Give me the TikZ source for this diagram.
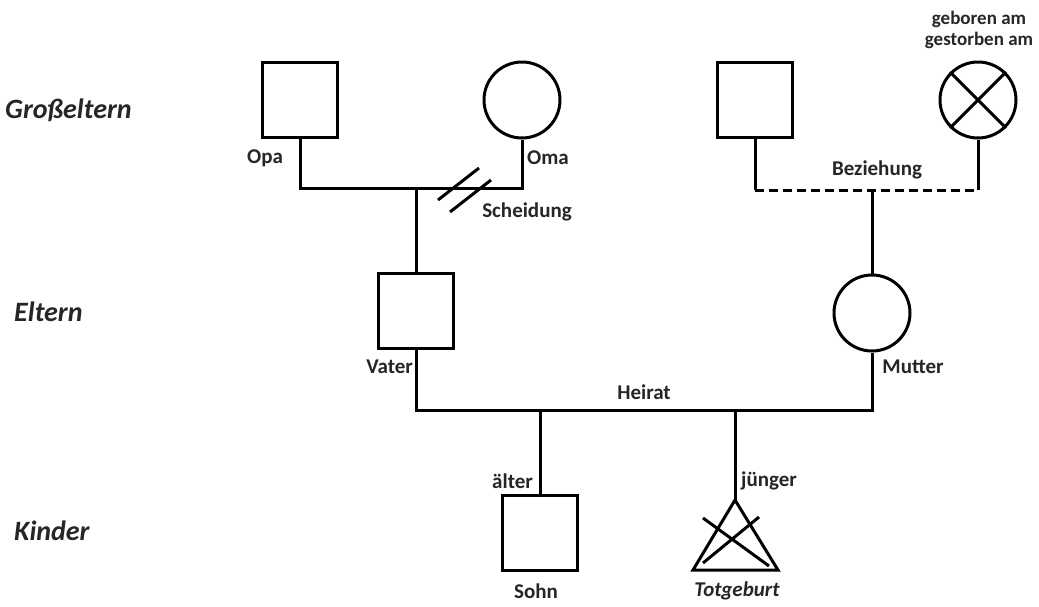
\documentclass[tikz,border=0pt]{standalone}
\usepackage{fontspec}
\setmainfont{Carlito}
\begin{document}
\begin{tikzpicture}[x=1pt,y=-1pt,
  ln/.style={line width=3pt},
  sq/.style={draw, line width=3pt, minimum size=75pt, inner sep=0pt},
  ci/.style={draw, circle, line width=3pt, minimum size=76pt, inner sep=0pt},
  lbl/.style={font=\fontsize{21}{23}\selectfont\bfseries, text=black!85, inner sep=0pt},
  row/.style={font=\fontsize{28}{30}\selectfont\bfseries\itshape, text=black!85, anchor=west, inner sep=0pt}]
\useasboundingbox (0,0) rectangle (1039,606);
\fill[white] (0,0) rectangle (1039,606);

% row labels
\node[row] (rg) at (5,110) {Großeltern};
\node[row] (re) at (14,312) {Eltern};
\node[row] (rk) at (14,531) {Kinder};

% persons
\node[sq] (opa) at (300,100) {};
\node[ci] (oma) at (522,100) {};
\node[sq] (gv) at (755,100) {};
\node[ci] (gm) at (978,100) {};
\node[sq] (vater) at (416,311) {};
\node[ci] (mutter) at (872,313) {};
\node[sq] (sohn) at (540,533) {};

% stillbirth triangle
\coordinate (apex) at (735,500);
\coordinate (tl) at (693,570);
\coordinate (tr) at (778,570);
\draw[ln, line join=miter] (apex) -- (tr) -- (tl) -- cycle;
\coordinate (xa1) at (703,518);
\coordinate (xa2) at (769,566);
\coordinate (xb1) at (759,517);
\coordinate (xb2) at (703,563);
\draw[ln] (xa1) -- (xa2) (xb1) -- (xb2);

% crossed circle
\draw[ln] (gm.45) -- (gm.225) (gm.135) -- (gm.315);

% grandparents left (divorced)
\coordinate (gy) at (0,188);
\coordinate (gc) at (416,188);
\draw[ln] (opa.south) -- (opa.south |- gy) -- (oma.south |- gy) -- (oma.south);
\draw[ln] (gc) -- (vater.north);
\coordinate (d1a) at (438,200);
\coordinate (d1b) at (479,168);
\coordinate (d2a) at (450,212);
\coordinate (d2b) at (491,180);
\draw[ln] (d1a) -- (d1b) (d2a) -- (d2b);

% grandparents right (relationship)
\coordinate (by) at (0,190);
\coordinate (bc) at (872,190);
\draw[ln] (gv.south) -- (gv.south |- by);
\draw[ln] (gm.south) -- (gm.south |- by);
\draw[ln, dash pattern=on 9pt off 5pt] (gv.south |- by) -- (gm.south |- by);
\draw[ln] (bc) -- (mutter.north);

% marriage
\coordinate (hy) at (0,410);
\draw[ln] (vater.south) -- (vater.south |- hy) -- (mutter.south |- hy) -- (mutter.south);
\draw[ln] (sohn.north |- hy) -- (sohn.north);
\draw[ln] (apex |- hy) -- (apex);

% labels
\node[lbl] (lopa) at (265,158) {Opa};
\node[lbl] (loma) at (548,158) {Oma};
\node[lbl] (lsch) at (527,212) {Scheidung};
\node[lbl] (lbez) at (877,170) {Beziehung};
\node[lbl, align=center, font=\fontsize{19}{21}\selectfont\bfseries] (lgeb) at (979,30) {geboren am\\gestorben am};
\node[lbl, anchor=east] (lvat) at (413,367) {Vater};
\node[lbl] (lmut) at (913,367) {Mutter};
\node[lbl] (lhei) at (644,392) {Heirat};
\node[lbl, anchor=east] (lalt) at (533,481) {älter};
\node[lbl, anchor=west] (ljun) at (741,481) {jünger};
\node[lbl] (lsoh) at (536,591) {Sohn};
\node[lbl, font=\fontsize{21}{23}\selectfont\bfseries\itshape] (ltot) at (737,591) {Totgeburt};
\end{tikzpicture}
\end{document}
